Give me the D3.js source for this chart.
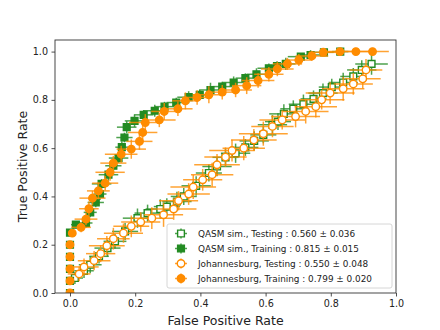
<!DOCTYPE html>
<html>
<head>
<meta charset="utf-8">
<script src="https://cdn.jsdelivr.net/npm/d3@7"></script>
<style>
  body { margin: 0; background: #fff; }
  svg { font-family: "DejaVu Sans", sans-serif; }
</style>
</head>
<body>
<svg id="chart" width="440" height="330"></svg>
<script>
const width = 440, height = 330;
const margin = { left: 55, top: 40, right: 44, bottom: 37 };

const xTicks = [0.0, 0.2, 0.4, 0.6, 0.8, 1.0];
const yTicks = [0.0, 0.2, 0.4, 0.6, 0.8, 1.0];

// QASM sim., Training
const qasmTrainFpr = [0, 0, 0, 0, 0, 0, 0.018, 0.049, 0.062, 0.079, 0.092, 0.097, 0.118, 0.133, 0.149, 0.159, 0.167, 0.174, 0.198, 0.226, 0.26, 0.29, 0.326, 0.364, 0.398, 0.431, 0.467, 0.502, 0.538, 0.572, 0.61, 0.635, 0.662, 0.708, 0.738, 0.779, 0.829];
const qasmTrainTpr = [0, 0.05, 0.1, 0.15, 0.2, 0.25, 0.283, 0.29, 0.334, 0.375, 0.41, 0.452, 0.49, 0.527, 0.559, 0.604, 0.644, 0.687, 0.713, 0.738, 0.755, 0.772, 0.789, 0.811, 0.821, 0.841, 0.855, 0.872, 0.89, 0.906, 0.931, 0.94, 0.949, 0.979, 0.986, 0.997, 1.0];
const qasmTrainFprErr = [0, 0, 0, 0, 0, 0, 0.015, 0.02, 0.02, 0.025, 0.02, 0.03, 0.03, 0.025, 0.03, 0.02, 0.025, 0.03, 0.03, 0.03, 0.035, 0.03, 0.03, 0.035, 0.03, 0.035, 0.03, 0.035, 0.03, 0.03, 0.035, 0.03, 0.03, 0.04, 0.035, 0.03, 0.025];
const qasmTrainTprErr = [0, 0, 0, 0, 0, 0, 0.015, 0.02, 0.02, 0.02, 0.025, 0.02, 0.025, 0.025, 0.02, 0.025, 0.02, 0.025, 0.025, 0.02, 0.025, 0.02, 0.02, 0.025, 0.02, 0.03, 0.02, 0.025, 0.02, 0.025, 0.02, 0.02, 0.025, 0.015, 0.02, 0.01, 0.005];

// Johannesburg, Training
const johTrainFpr = [0, 0, 0, 0, 0, 0.007, 0.034, 0.049, 0.058, 0.069, 0.087, 0.108, 0.123, 0.133, 0.157, 0.188, 0.213, 0.223, 0.231, 0.274, 0.289, 0.331, 0.354, 0.39, 0.426, 0.467, 0.508, 0.542, 0.577, 0.61, 0.636, 0.667, 0.702, 0.742, 0.777, 0.828, 0.877, 0.928];
const johTrainTpr = [0, 0.05, 0.1, 0.15, 0.2, 0.248, 0.272, 0.306, 0.349, 0.393, 0.423, 0.455, 0.5, 0.538, 0.575, 0.596, 0.628, 0.665, 0.706, 0.717, 0.752, 0.763, 0.796, 0.81, 0.821, 0.832, 0.841, 0.859, 0.88, 0.906, 0.928, 0.949, 0.965, 0.982, 0.997, 1.0, 1.0, 1.0];
const johTrainFprErr = [0, 0, 0, 0, 0, 0.01, 0.03, 0.035, 0.03, 0.04, 0.035, 0.04, 0.045, 0.04, 0.05, 0.045, 0.04, 0.045, 0.05, 0.05, 0.04, 0.045, 0.04, 0.045, 0.05, 0.045, 0.05, 0.045, 0.05, 0.045, 0.05, 0.045, 0.04, 0.05, 0.045, 0.05, 0.055, 0.05];
const johTrainTprErr = [0, 0, 0, 0, 0, 0.01, 0.02, 0.025, 0.03, 0.03, 0.035, 0.03, 0.035, 0.03, 0.035, 0.04, 0.035, 0.04, 0.035, 0.03, 0.035, 0.03, 0.035, 0.03, 0.035, 0.03, 0.03, 0.035, 0.03, 0.03, 0.03, 0.025, 0.025, 0.02, 0.01, 0.005, 0.005, 0.005];

// QASM sim., Testing
const qasmTestFpr = [0.015, 0.043, 0.062, 0.089, 0.115, 0.138, 0.169, 0.207, 0.238, 0.277, 0.297, 0.328, 0.349, 0.387, 0.426, 0.451, 0.477, 0.508, 0.538, 0.565, 0.593, 0.621, 0.638, 0.656, 0.685, 0.716, 0.747, 0.776, 0.803, 0.838, 0.869, 0.895, 0.925];
const qasmTestTpr = [0.062, 0.092, 0.117, 0.152, 0.186, 0.214, 0.255, 0.31, 0.331, 0.348, 0.358, 0.379, 0.4, 0.444, 0.497, 0.524, 0.562, 0.579, 0.603, 0.63, 0.655, 0.697, 0.71, 0.742, 0.763, 0.782, 0.804, 0.828, 0.853, 0.872, 0.897, 0.924, 0.949];
const qasmTestFprErr = [0.025, 0.03, 0.035, 0.03, 0.04, 0.035, 0.04, 0.045, 0.04, 0.045, 0.04, 0.045, 0.04, 0.045, 0.04, 0.045, 0.04, 0.045, 0.04, 0.045, 0.04, 0.045, 0.04, 0.045, 0.04, 0.045, 0.04, 0.045, 0.04, 0.045, 0.04, 0.045, 0.05];
const qasmTestTprErr = [0.025, 0.03, 0.035, 0.03, 0.035, 0.03, 0.035, 0.04, 0.035, 0.04, 0.035, 0.04, 0.035, 0.04, 0.035, 0.04, 0.035, 0.04, 0.035, 0.04, 0.035, 0.04, 0.035, 0.04, 0.035, 0.04, 0.035, 0.04, 0.035, 0.04, 0.035, 0.04, 0.045];

// Johannesburg, Testing
const johTestFpr = [0.028, 0.043, 0.074, 0.094, 0.113, 0.133, 0.164, 0.188, 0.217, 0.251, 0.287, 0.318, 0.333, 0.364, 0.378, 0.407, 0.436, 0.451, 0.477, 0.497, 0.533, 0.564, 0.593, 0.621, 0.651, 0.692, 0.723, 0.754, 0.772, 0.798, 0.838, 0.869, 0.898, 0.908];
const johTestTpr = [0.079, 0.108, 0.134, 0.163, 0.196, 0.225, 0.248, 0.276, 0.294, 0.31, 0.324, 0.348, 0.382, 0.41, 0.439, 0.469, 0.49, 0.531, 0.563, 0.59, 0.6, 0.634, 0.66, 0.69, 0.717, 0.731, 0.752, 0.772, 0.8, 0.828, 0.846, 0.866, 0.887, 0.924];
const johTestFprErr = [0.035, 0.045, 0.05, 0.045, 0.055, 0.05, 0.06, 0.055, 0.06, 0.065, 0.06, 0.07, 0.06, 0.065, 0.07, 0.06, 0.065, 0.07, 0.065, 0.07, 0.065, 0.07, 0.075, 0.065, 0.07, 0.075, 0.07, 0.065, 0.07, 0.075, 0.065, 0.06, 0.055, 0.05];
const johTestTprErr = [0.03, 0.035, 0.04, 0.035, 0.04, 0.045, 0.04, 0.045, 0.04, 0.045, 0.05, 0.045, 0.04, 0.045, 0.05, 0.045, 0.05, 0.045, 0.04, 0.045, 0.05, 0.045, 0.05, 0.045, 0.04, 0.045, 0.05, 0.045, 0.04, 0.045, 0.05, 0.045, 0.04, 0.045];

const legendLabels = [
  "QASM sim., Testing : 0.560 \u00b1 0.036",
  "QASM sim., Training : 0.815 \u00b1 0.015",
  "Johannesburg, Testing : 0.550 \u00b1 0.048",
  "Johannesburg, Training : 0.799 \u00b1 0.020"
];

const green = "#228b22", orange = "#ff8c00";

const series = [
  { fpr: qasmTestFpr, tpr: qasmTestTpr, xe: qasmTestFprErr, ye: qasmTestTprErr, color: green, shape: "square", open: true },
  { fpr: qasmTrainFpr, tpr: qasmTrainTpr, xe: qasmTrainFprErr, ye: qasmTrainTprErr, color: green, shape: "square", open: false },
  { fpr: johTestFpr, tpr: johTestTpr, xe: johTestFprErr, ye: johTestTprErr, color: orange, shape: "circle", open: true },
  { fpr: johTrainFpr, tpr: johTrainTpr, xe: johTrainFprErr, ye: johTrainTprErr, color: orange, shape: "circle", open: false }
];
series.forEach((s, i) => {
  s.label = legendLabels[i];
  s.points = s.fpr.map((f, j) => ({ x: f, y: s.tpr[j], xe: s.xe[j], ye: s.ye[j] }));
});

const svg = d3.select("#chart");
const x = d3.scaleLinear().domain([-0.046, 1.0]).range([margin.left, width - margin.right]);
const y = d3.scaleLinear().domain([0, 1.048]).range([height - margin.bottom, margin.top]);

svg.append("defs").append("clipPath").attr("id", "plotclip")
  .append("rect")
  .attr("x", margin.left).attr("y", margin.top)
  .attr("width", width - margin.left - margin.right)
  .attr("height", height - margin.top - margin.bottom);

const plot = svg.append("g").attr("clip-path", "url(#plotclip)");

const symSquare = d3.symbol().type(d3.symbolSquare).size(46);
const symCircle = d3.symbol().type(d3.symbolCircle).size(44);

function drawMarker(g, s) {
  g.append("path")
    .attr("d", s.shape === "square" ? symSquare() : symCircle())
    .attr("fill", s.open ? "#fff" : s.color)
    .attr("stroke", s.color)
    .attr("stroke-width", 1.4);
}

series.forEach(s => {
  const g = plot.append("g");
  // error bars
  g.selectAll("line.xe").data(s.points).join("line")
    .attr("x1", d => x(d.x - d.xe)).attr("x2", d => x(d.x + d.xe))
    .attr("y1", d => y(d.y)).attr("y2", d => y(d.y))
    .attr("stroke", s.color).attr("stroke-width", 1.5).attr("stroke-opacity", 0.8);
  g.selectAll("line.ye").data(s.points).join("line")
    .attr("x1", d => x(d.x)).attr("x2", d => x(d.x))
    .attr("y1", d => y(d.y - d.ye)).attr("y2", d => y(d.y + d.ye))
    .attr("stroke", s.color).attr("stroke-width", 1.5).attr("stroke-opacity", 0.8);
  // markers
  g.selectAll("g.m").data(s.points).join("g")
    .attr("transform", d => `translate(${x(d.x)},${y(d.y)})`)
    .each(function () { drawMarker(d3.select(this), s); });
});

// axes
const xAxis = svg.append("g")
  .attr("transform", `translate(0,${height - margin.bottom})`)
  .call(d3.axisBottom(x).tickValues(xTicks).tickFormat(d3.format(".1f")).tickSize(3.5).tickPadding(3.5));
const yAxis = svg.append("g")
  .attr("transform", `translate(${margin.left},0)`)
  .call(d3.axisLeft(y).tickValues(yTicks).tickFormat(d3.format(".1f")).tickSize(3.5).tickPadding(3.5));
[xAxis, yAxis].forEach(a => {
  a.select(".domain").remove();
  a.selectAll("line").attr("stroke", "#222").attr("stroke-width", 0.8);
  a.selectAll("text").attr("font-size", 9.6).attr("fill", "#222").attr("font-family", "DejaVu Sans");
});

// frame
svg.append("rect")
  .attr("x", margin.left).attr("y", margin.top)
  .attr("width", width - margin.left - margin.right)
  .attr("height", height - margin.top - margin.bottom)
  .attr("fill", "none").attr("stroke", "#333").attr("stroke-width", 0.9);

svg.append("text")
  .attr("x", (margin.left + width - margin.right) / 2).attr("y", 324.5)
  .attr("text-anchor", "middle").attr("font-size", 12.5).attr("fill", "#222")
  .text("False Positive Rate");
svg.append("text")
  .attr("transform", `translate(26.5,${(margin.top + height - margin.bottom) / 2}) rotate(-90)`)
  .attr("text-anchor", "middle").attr("font-size", 12.5).attr("fill", "#222")
  .text("True Positive Rate");

// legend
const legend = svg.append("g").attr("transform", "translate(167,224)");
legend.append("rect")
  .attr("width", 225).attr("height", 64).attr("rx", 2)
  .attr("fill", "#fff").attr("fill-opacity", 0.8)
  .attr("stroke", "#ccc").attr("stroke-width", 0.8);
series.forEach((s, i) => {
  const row = legend.append("g").attr("transform", `translate(14,${9.5 + i * 15})`);
  row.append("line").attr("x1", -6).attr("x2", 6).attr("y1", 0).attr("y2", 0)
    .attr("stroke", s.color).attr("stroke-width", 1.5).attr("stroke-opacity", 0.8);
  row.append("line").attr("x1", 0).attr("x2", 0).attr("y1", -5).attr("y2", 5)
    .attr("stroke", s.color).attr("stroke-width", 1.5).attr("stroke-opacity", 0.8);
  drawMarker(row, s);
  row.append("text").attr("x", 17).attr("y", 3.3)
    .attr("font-size", 8.9).attr("fill", "#222")
    .text(s.label);
});
</script>
</body>
</html>
